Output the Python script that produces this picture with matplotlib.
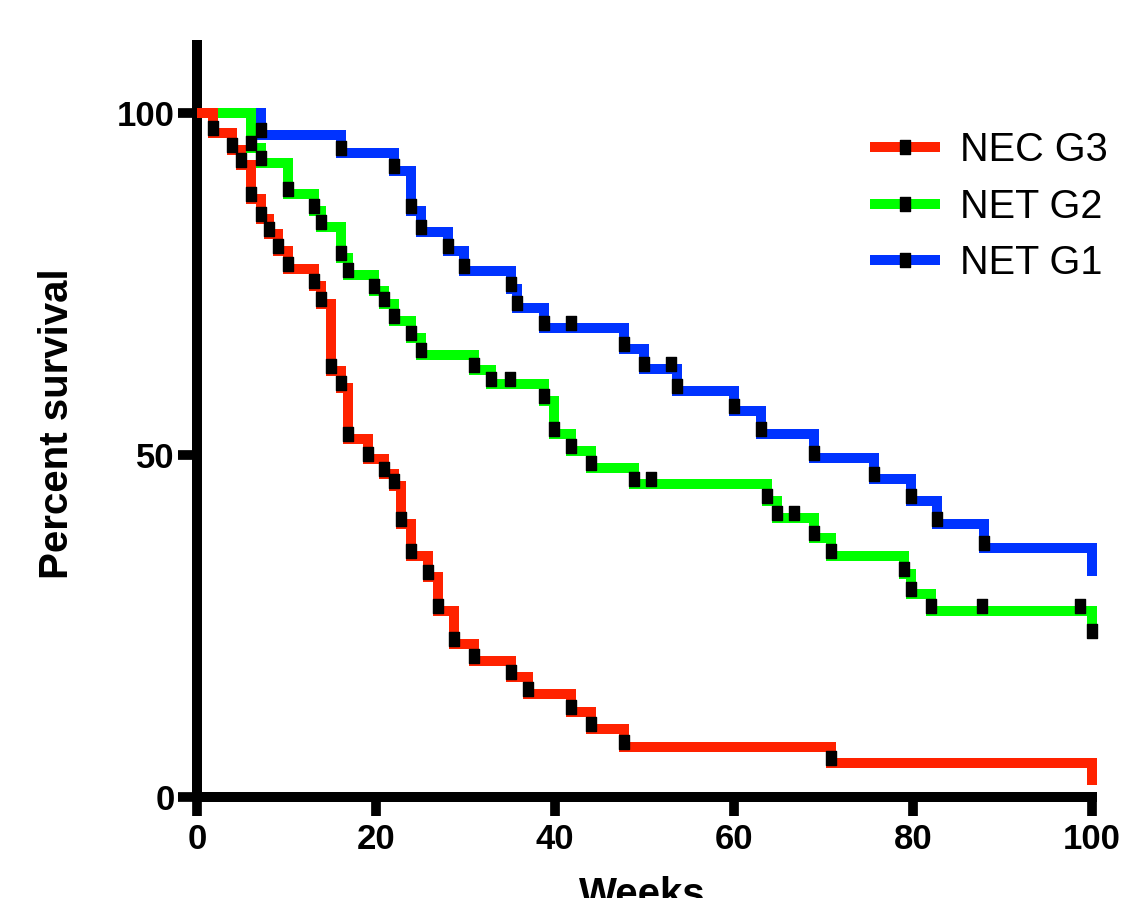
import numpy as np
import matplotlib
matplotlib.use("Agg")
import matplotlib.pyplot as plt
from matplotlib.lines import Line2D
from matplotlib.path import Path
import matplotlib.transforms as mtransforms

# Kaplan-Meier steps: week of each drop, survival after it
nec_g3_weeks = [1.8, 3.9, 4.9, 6.0, 7.2, 8.0, 9.1, 10.2, 13.1, 13.9, 15.0, 16.1, 16.9,
                19.1, 20.9, 22.0, 22.8, 23.9, 25.8, 26.9, 28.7, 30.9, 35.1, 37.0,
                41.8, 44.0, 47.7, 70.8, 100]
nec_g3_surv = [97.1, 94.7, 92.5, 87.5, 84.6, 82.3, 79.8, 77.3, 74.7, 72.1, 62.3, 59.8, 52.3,
               49.5, 47.3, 45.5, 40.0, 35.2, 32.2, 27.2, 22.4, 19.9, 17.5, 15.1,
               12.4, 10.0, 7.3, 5.0, 1.8]
nec_g3_censored = []

net_g2_weeks = [6.0, 7.2, 10.2, 13.1, 13.9, 16.1, 16.9, 19.8, 20.9, 22.0, 23.9, 25.0,
                30.9, 32.9, 38.8, 39.9, 41.8, 44.0, 48.8, 63.7, 64.8, 68.9, 70.8,
                79.0, 79.8, 82.0, 100]
net_g2_surv = [94.9, 92.7, 88.2, 85.7, 83.4, 78.8, 76.3, 74.0, 72.1, 69.6, 67.1, 64.7,
               62.5, 60.4, 57.9, 53.1, 50.6, 48.1, 45.8, 43.3, 40.8, 37.9, 35.3,
               32.6, 29.7, 27.2, 23.5]
net_g2_censored = [35.0, 50.7, 66.7, 87.7, 98.7, 100]

net_g1_weeks = [7.2, 16.1, 22.0, 23.9, 25.0, 28.0, 29.8, 35.1, 35.8, 38.8, 47.7, 49.9,
                53.6, 60.0, 63.0, 68.9, 75.6, 79.8, 82.7, 87.9, 100]
net_g1_surv = [96.9, 94.2, 91.5, 85.7, 82.7, 79.8, 76.9, 74.3, 71.5, 68.6, 65.5, 62.6,
               59.4, 56.5, 53.1, 49.6, 46.5, 43.3, 39.9, 36.4, 32.3]
net_g1_censored = [41.8, 53.0]

labels = ["NEC G3", "NET G2", "NET G1"]
colors = ["#ff2200", "#00ff00", "#0033ff"]
week_ticks = [0, 20, 40, 60, 80, 100]
surv_ticks = [0, 50, 100]

plt.rcParams['font.family'] = ['Liberation Sans', 'DejaVu Sans']

fig = plt.figure(figsize=(11.26, 8.98), dpi=100)
ax = fig.add_axes([197 / 1126, 1 - 797 / 898, (1092 - 197) / 1126, (797 - 45) / 898])

# tall black square like the GraphPad symbol
sq = Path([(-0.38, -0.5), (0.38, -0.5), (0.38, 0.5), (-0.38, 0.5), (-0.38, -0.5)],
          [Path.MOVETO, Path.LINETO, Path.LINETO, Path.LINETO, Path.CLOSEPOLY])
mark_tr = mtransforms.offset_copy(ax.transData, fig=fig, x=0, y=5, units='dots')

series = [
    (nec_g3_weeks, nec_g3_surv, nec_g3_censored),
    (net_g2_weeks, net_g2_surv, net_g2_censored),
    (net_g1_weeks, net_g1_surv, net_g1_censored),
]

# draw blue first so red sits on top
for i in [2, 1, 0]:
    t, s, cens = series[i]
    x = [0] + t
    y = [100] + s
    ax.step(x, y, where='post', color=colors[i], lw=7.2, solid_joinstyle='miter',
            solid_capstyle='butt', clip_on=False, zorder=2 + (2 - i))
    t = np.array(t)
    s = np.array(s)
    keep = t < 100
    mx = list(t[keep])
    my = list(s[keep])
    for c in cens:
        idx = np.searchsorted(t, c, side='right') - 1
        mx.append(c)
        my.append(s[idx] if idx >= 0 else 100)
    ax.plot(mx, my, ls='none', marker=sq, ms=9.4, color='black',
            transform=mark_tr, clip_on=False, zorder=6)

ax.set_xlim(0, 100)
ax.set_ylim(0, 110)
ax.set_xticks(week_ticks)
ax.set_yticks(surv_ticks)
for side in ['top', 'right']:
    ax.spines[side].set_visible(False)
for side in ['left', 'bottom']:
    ax.spines[side].set_linewidth(7.2)
    ax.spines[side].set_color('black')
ax.tick_params(axis='both', length=14, width=7, direction='out', labelsize=25)
ax.tick_params(axis='x', pad=5)
ax.tick_params(axis='y', pad=2)
for lab in ax.get_xticklabels() + ax.get_yticklabels():
    lab.set_fontweight('bold')

ax.set_ylabel("Percent survival", fontsize=29, fontweight='bold', va='center')
ax.yaxis.set_label_coords(-0.156, 0.497)
ax.set_xlabel("Weeks", fontsize=29, fontweight='bold', va='top')
ax.xaxis.set_label_coords(0.497, -0.105)

handles = [Line2D([], [], color=colors[i], lw=7.2, solid_capstyle='butt', marker=sq,
                  ms=9.4, mfc='black', mec='black') for i in range(3)]
ax.legend(handles, labels, loc='upper left', bbox_to_anchor=(870 / 1126, 1 - 131 / 898),
          bbox_transform=fig.transFigure, frameon=False, fontsize=28.5,
          handlelength=1.77, handletextpad=0.5, labelspacing=0.47,
          borderpad=0, borderaxespad=0, numpoints=1)

fig.savefig("out.png", dpi=100)
